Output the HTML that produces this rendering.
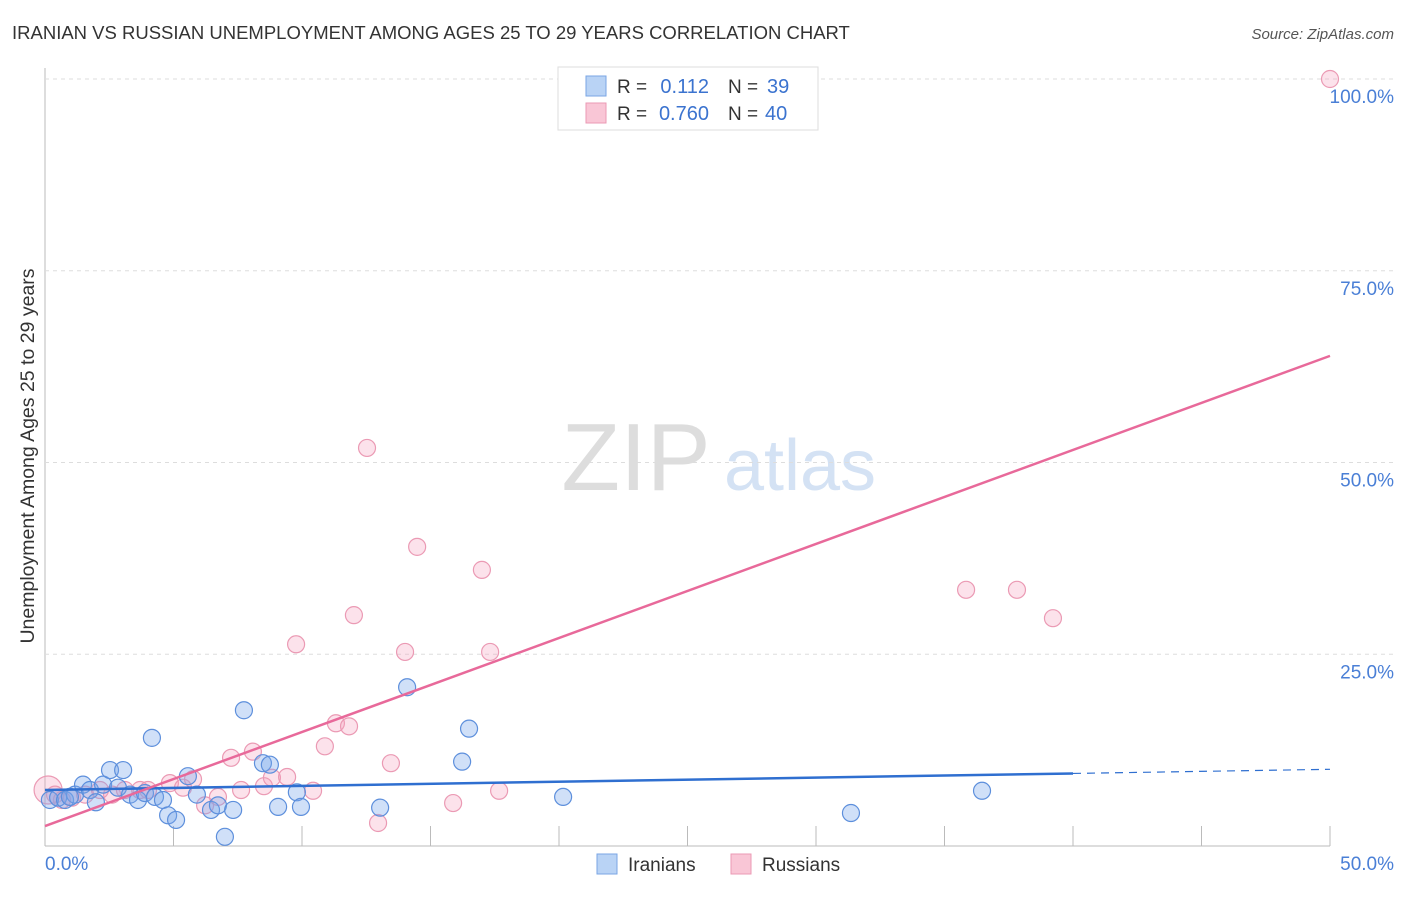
<!DOCTYPE html>
<html><head><meta charset="utf-8"><style>
body{margin:0;background:#fff;font-family:"Liberation Sans",sans-serif;}
svg text{font-family:"Liberation Sans",sans-serif;}
</style></head><body>
<svg id="chart" width="1406" height="892">
<text x="12" y="39" font-size="18.5" fill="#333">IRANIAN VS RUSSIAN UNEMPLOYMENT AMONG AGES 25 TO 29 YEARS CORRELATION CHART</text>
<text x="1394" y="39" font-size="15" fill="#555" font-style="italic" text-anchor="end">Source: ZipAtlas.com</text>
<g><text x="636" y="490" font-size="96" fill="#ddd" font-family="Liberation Serif" text-anchor="middle">ZIP</text><text x="800" y="490" font-size="72" fill="#d4e2f4" text-anchor="middle">atlas</text></g>
<g id="grid"></g><g id="marks"></g>
<text transform="translate(34,456) rotate(-90)" font-size="19.5" fill="#333" text-anchor="middle">Unemployment Among Ages 25 to 29 years</text>
<text x="45" y="870" font-size="19" fill="#4a7fd6">0.0%</text>
<text x="1394" y="870" font-size="19" fill="#4a7fd6" text-anchor="end">50.0%</text>
<g>
<rect x="558" y="67" width="260" height="63" fill="#fff" stroke="#ddd"/>
<rect x="586" y="76" width="20" height="20" fill="#b9d3f5" stroke="#7aa6e4"/>
<rect x="586" y="103" width="20" height="20" fill="#f9c6d6" stroke="#eb9ab4"/>
<text x="617" y="93" font-size="19" fill="#333">R =</text><text x="709" y="93" font-size="20" fill="#3b73cf" text-anchor="end">0.112</text>
<text x="728" y="93" font-size="19" fill="#333">N =</text><text x="767" y="93" font-size="20" fill="#3b73cf">39</text>
<text x="617" y="120" font-size="19" fill="#333">R =</text><text x="709" y="120" font-size="20" fill="#3b73cf" text-anchor="end">0.760</text>
<text x="728" y="120" font-size="19" fill="#333">N =</text><text x="765" y="120" font-size="20" fill="#3b73cf">40</text>
</g>
<g>
<rect x="597" y="854" width="20" height="20" fill="#b9d3f5" stroke="#7aa6e4"/>
<text x="628" y="871" font-size="19" fill="#333">Iranians</text>
<rect x="731" y="854" width="20" height="20" fill="#f9c6d6" stroke="#eb9ab4"/>
<text x="762" y="871" font-size="19" fill="#333">Russians</text>
</g>
</svg>
<script>
const yTicks=[25,50,75,100];
const yTickLabels=["25.0%","50.0%","75.0%","100.0%"];
const xTicks=[0,5,10,15,20,25,30,35,40,45,50];
const iranX=[0.19,0.51,0.78,1.17,1.48,1.75,1.98,2.26,2.53,2.84,3.04,3.31,3.62,3.89,4.16,4.28,4.59,4.79,5.10,5.56,5.91,6.46,6.73,7.00,7.32,7.74,8.48,8.75,9.07,9.80,9.96,13.04,14.09,16.23,16.50,20.16,31.36,36.46,0.97];
const iranY=[6.0,6.3,6.0,6.7,8.0,7.3,5.7,8.0,9.9,7.6,9.9,6.7,6.0,6.9,14.1,6.4,6.0,4.0,3.4,9.1,6.7,4.7,5.3,1.2,4.7,17.7,10.8,10.6,5.1,7.0,5.1,5.0,20.7,11.0,15.3,6.4,4.3,7.2,6.4];
const rusX=[0.12,0.39,0.66,1.05,1.56,2.14,2.61,3.11,3.70,4.01,4.86,5.37,5.76,6.23,6.73,7.24,7.63,8.09,8.52,8.83,9.42,9.77,10.43,10.89,11.32,11.83,12.02,12.53,12.96,13.46,14.01,14.48,15.88,17.00,17.32,17.67,35.84,37.82,39.22,50.0];
const rusY=[7.3,6.7,6.0,6.3,6.7,7.3,6.7,7.3,7.3,7.3,8.2,7.6,8.7,5.3,6.4,11.5,7.3,12.3,7.8,8.9,9.0,26.3,7.2,13.0,16.0,15.6,30.1,51.9,3.0,10.8,25.3,39.0,5.6,36.0,25.3,7.2,33.4,33.4,29.7,100];
const iranTrend=[7.3,10.0];
const rusTrend=[2.6,63.9];
const NS="http://www.w3.org/2000/svg";
const sx=v=>45+v/50*1285;
const sy=v=>846-v*7.67;
function mk(parent,tag,attrs){const e=document.createElementNS(NS,tag);for(const k in attrs)e.setAttribute(k,attrs[k]);parent.appendChild(e);return e;}
const grid=document.getElementById('grid'),marks=document.getElementById('marks');
let e=mk(grid,'line',{x1:45,y1:68,x2:45,y2:846,stroke:'#bbb'});


e=mk(grid,'line',{x1:45,y1:846,x2:1330,y2:846,stroke:'#bbb'});


yTicks.forEach((t,i)=>{
 let g=mk(grid,'line',{x1:45,y1:sy(t),x2:1394,y2:sy(t),stroke:'#ddd','stroke-dasharray':'4,4'});
 
 
 let l=mk(grid,'text',{x:1394,y:sy(t)+24,'font-size':19,fill:'#4a7fd6','text-anchor':'end'});
 l.textContent=yTickLabels[i];
 
 
});
xTicks.forEach(t=>{
 let g=mk(grid,'line',{x1:sx(t),y1:826,x2:sx(t),y2:846,stroke:'#bbb'});
 
 
});
function dots(xs,ys,fill,stroke,name){xs.forEach((x,i)=>{
 let c=mk(marks,'circle',{cx:sx(x),cy:sy(ys[i]),r:(i==0&&name=='russian-point')?14:8.5,fill:fill,stroke:stroke,'stroke-width':1.2});
 
 
});}
dots(rusX,rusY,'rgba(244,160,188,0.3)','#eb9ab4','russian-point');
dots(iranX,iranY,'rgba(120,165,235,0.35)','#5d8fdc','iranian-point');
let t1=mk(marks,'line',{x1:sx(0),y1:sy(iranTrend[0]),x2:sx(40),y2:sy(iranTrend[0]+(iranTrend[1]-iranTrend[0])*0.8),stroke:'#2f6fd0','stroke-width':2.5});


let t2=mk(marks,'line',{x1:sx(40),y1:sy(iranTrend[0]+(iranTrend[1]-iranTrend[0])*0.8),x2:sx(50),y2:sy(iranTrend[1]),stroke:'#2f6fd0','stroke-width':1.2,'stroke-dasharray':'8,6'});


let t3=mk(marks,'line',{x1:sx(0),y1:sy(rusTrend[0]),x2:sx(50),y2:sy(rusTrend[1]),stroke:'#e8699a','stroke-width':2.5});


</script>
</body></html>
